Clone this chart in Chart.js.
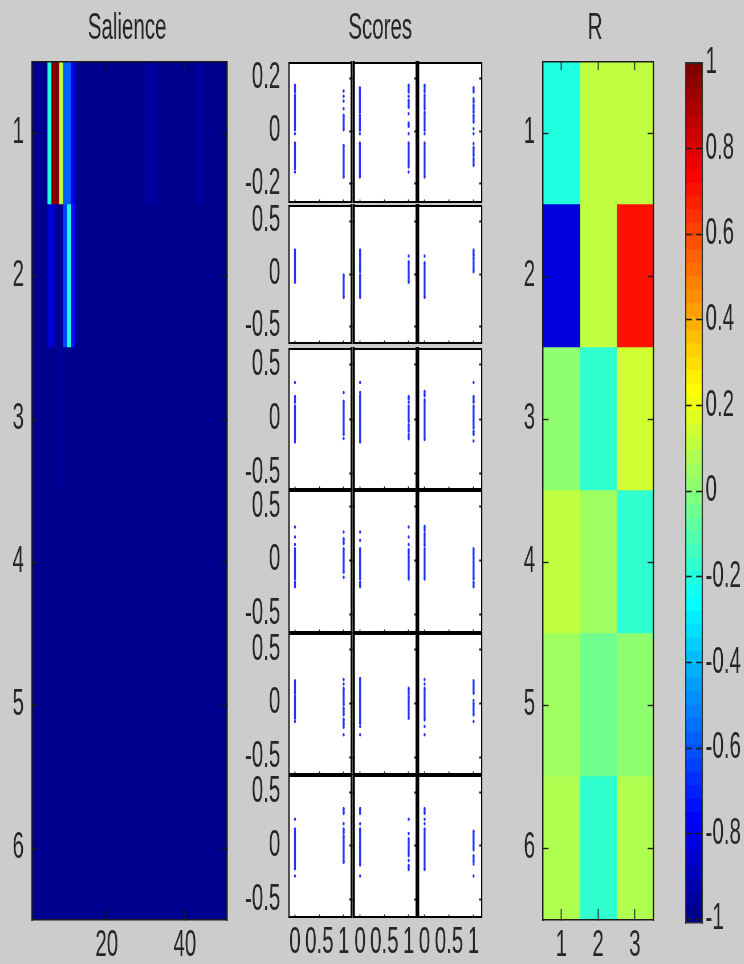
<!DOCTYPE html>
<html>
<head>
<meta charset="utf-8">
<title>Salience / Scores / R</title>
<script src="https://cdn.jsdelivr.net/npm/chart.js@4/dist/chart.umd.min.js"></script>
<style>
  html, body { margin: 0; padding: 0; background: #cccccc; overflow: hidden; width: 744px; height: 964px; }
  /* the source figure is squeezed sideways, so everything is laid out wide and scaled down */
  #stage { position: absolute; left: 0; top: 0; width: 1306px; height: 964px; transform-origin: 0 0; transform: scaleX(0.57); filter: blur(0.35px); }
  #stage canvas { position: absolute; }
</style>
</head>
<body>
<div id="stage"></div>
<script>
// ---- data ----
const rowLabels = ['1', '2', '3', '4', '5', '6'];

const salienceRow1 = [0,0,0,0,.4,1,1,.55,.2,.2,.1,0,0,0,0,0,0,0,0,0,0,0,0,0,0,0,0,0,0,.02,.02,.02,0,0,0,0,0,0,0,0,0,0,.02,.02,0,0,0,0,0,0];
const salienceRow2 = [0,0,0,0,.06,.06,0,0,.18,.4,.12,0,0,0,0,0,0,0,0,0,0,0,0,0,0,0,0,0,0,0,0,0,0,0,0,0,0,0,0,0,0,0,0,0,0,0,0,0,0,0];
const salienceRow3 = [0,0,0,0,0,0,0,.02,0,0,0,0,0,0,0,0,0,0,0,0,0,0,0,0,0,0,0,0,0,0,0,0,0,0,0,0,0,0,0,0,0,0,0,0,0,0,0,0,0,0];
const salienceRow4 = [0,0,0,0,0,0,0,0,0,0,0,0,0,0,0,0,0,0,0,0,0,0,0,0,0,0,0,0,0,0,0,0,0,0,0,0,0,0,0,0,0,0,0,0,0,0,0,0,0,0];
const salienceRow5 = [0,0,0,0,0,0,0,0,0,0,0,0,0,0,0,0,0,0,0,0,0,0,0,0,0,0,0,0,0,0,0,0,0,0,0,0,0,0,0,0,0,0,0,0,0,0,0,0,0,0];
const salienceRow6 = [0,0,0,0,0,0,0,0,0,0,0,0,0,0,0,0,0,0,0,0,0,0,0,0,0,0,0,0,0,0,0,0,0,0,0,0,0,0,0,0,0,0,0,0,0,0,0,0,0,0];
const salienceTicks = [20, 40];

const rRow1 = [-.2, .12, .12];
const rRow2 = [-.82, .12, .7];
const rRow3 = [.01, -.17, .14];
const rRow4 = [.12, .04, -.17];
const rRow5 = [.04, -.05, .01];
const rRow6 = [.08, -.17, .08];
const rTicks = [1, 2, 3];

// runs of score values per panel: [x=0 runs, x=1 runs], a run is [from, to] or a lone [value]
const scoresRow1 = [
  [[[.174,.149],[.136,.005],[-.01],[-.046,-.143],[-.156]], [[.152],[.132],[.114],[.085],[.06,.005],[-.055,-.175]]],
  [[[.165,.145],[.136,.072],[.06,.003],[-.01],[-.046,-.175]], [[.174,.149],[.132],[.117,.091],[.066],[.03,.018],[-.01],[-.046,-.112],[-.118,-.137],[-.156]]],
  [[[.174,.149],[.136,.085],[.072,.003],[-.01],[-.046,-.175]], [[.165,.149],[.123,.11],[.098,.072],[.06,.034],[.009],[-.01],[-.048],[-.063,-.093],[-.105,-.131]]]
];
const scoresRow2 = [
  [[[.228,-.079]], [[-.009,-.222]]],
  [[[.228,.18],[.158,.022],[-.009,-.222]], [[.171],[.117,-.079]]],
  [[[.171],[.108,-.222]], [[.228,.18],[.158,.022]]]
];
const scoresRow3 = [
  [[[.338],[.207,.156],[.12,-.213]], [[.246],[.165,-.144],[-.18]]],
  [[[.338],[.246],[.216,-.144],[-.165,-.213]], [[.207,.186],[.156],[.12,-.024],[-.054,-.114],[-.144,-.183]]],
  [[[.254,.216],[.177,-.189]], [[.338],[.207,.156],[.12,-.084],[-.114,-.144],[-.204]]]
];
const scoresRow4 = [
  [[[.313],[.219],[.15],[.109,-.172],[-.203,-.244]], [[.266],[.203,.156],[.109,-.109],[-.156]]],
  [[[.266],[.188],[.109,-.172],[-.203,-.244]], [[.313],[.219],[.15],[.1,.0625],[.0375,-.172]]],
  [[[.319,.281],[.25,.14],[.109,-.172]], [[.109,-.172],[-.203,-.244]]]
];
const scoresRow5 = [
  [[[.21,.093],[.068,-.139],[-.17]], [[.222],[.179],[.139,-.015],[-.046,-.108],[-.148,-.2],[-.222],[-.293]]],
  [[[.231,-.185],[-.216],[-.293]], [[.139,.093],[.068,-.139]]],
  [[[.222],[.179],[.139,-.154],[-.216],[-.293]], [[.21,.093],[.025],[0,-.108],[-.17]]]
];
const scoresRow6 = [
  [[[.248],[.158,-.212],[-.279]], [[.348,.303],[.206],[.158,.121],[.091,-.152]]],
  [[[.348,.303],[.206],[.158,-.176],[-.279]], [[.248],[.115],[.067,-.091],[-.136],[-.182,-.218]]],
  [[[.348,.303],[.248],[.206],[.158,-.218]], [[.136,-.036],[-.091,-.145],[-.167],[-.279]]]
];
const scoresXTicks = [0, .5, 1];
const scoresYTicks = [[-.2, 0, .2], [-.5, 0, .5], [-.5, 0, .5], [-.5, 0, .5], [-.5, 0, .5], [-.5, 0, .5]];
const scoresYMin = [-.27, -.657, -.648, -.666, -.658, -.66];
const scoresYMax = [.259, .648, .648, .648, .645, .65];

const colorbarTicks = [1, .8, .6, .4, .2, 0, -.2, -.4, -.6, -.8, -1];
const jetColors = [
  '#00008f','#00009f','#0000af','#0000bf','#0000cf','#0000df','#0000ef','#0000ff',
  '#0010ff','#0020ff','#0030ff','#0040ff','#0050ff','#0060ff','#0070ff','#0080ff',
  '#008fff','#009fff','#00afff','#00bfff','#00cfff','#00dfff','#00efff','#00ffff',
  '#10ffef','#20ffdf','#30ffcf','#40ffbf','#50ffaf','#60ff9f','#70ff8f','#80ff80',
  '#8fff70','#9fff60','#afff50','#bfff40','#cfff30','#dfff20','#efff10','#ffff00',
  '#ffef00','#ffdf00','#ffcf00','#ffbf00','#ffaf00','#ff9f00','#ff8f00','#ff8000',
  '#ff7000','#ff6000','#ff5000','#ff4000','#ff3000','#ff2000','#ff1000','#ff0000',
  '#ef0000','#df0000','#cf0000','#bf0000','#af0000','#9f0000','#8f0000','#800000'
];

// ---- helpers ----
const SX = 0.57;            // sideways squeeze of the stage
const INK = '#1c1c1c';
const TEXT = '#262626';
Chart.defaults.font.family = '"Liberation Sans", Arial, sans-serif';
Chart.defaults.font.size = 36;
Chart.defaults.color = TEXT;
Chart.defaults.animation = false;

const stage = document.getElementById('stage');

function jet01(v) { return jetColors[Math.min(63, Math.round(v * 63))]; }
function jetR(v) { return jetColors[Math.min(63, Math.floor((v + 1) / 2 * 64))]; }

const plotBg = {
  id: 'plotBg',
  beforeDraw(chart) {
    const a = chart.chartArea;
    chart.ctx.fillStyle = '#ffffff';
    chart.ctx.fillRect(a.left, a.top, a.right - a.left, a.bottom - a.top);
  }
};

// lock an axis to a given thickness and stop it pushing the plot area around
function fixed(size) {
  return s => {
    if (s.isHorizontal()) s.height = size; else s.width = size;
    s.paddingTop = s.paddingBottom = s.paddingLeft = s.paddingRight = 0;
  };
}
function tickList(values) {
  return s => { s.ticks = values.map(v => ({ value: v })); };
}

// box is the plot rectangle in page pixels, m the canvas margin round it
function addChart(box, m, config) {
  const canvas = document.createElement('canvas');
  const w = Math.round((box.r - box.l + m.l + m.r) / SX);
  const h = Math.round(box.b - box.t + m.t + m.b);
  canvas.width = w;
  canvas.height = h;
  canvas.style.width = w + 'px';
  canvas.style.height = h + 'px';
  canvas.style.left = (box.l - m.l) / SX + 'px';
  canvas.style.top = (box.t - m.t) + 'px';
  stage.appendChild(canvas);
  config.options.responsive = false;
  config.options.devicePixelRatio = 1;
  config.options.layout = { padding: { top: config.options.plugins && config.options.plugins.title ? 0 : m.t, right: 0, bottom: 0, left: 0 } };
  config.options.plugins = Object.assign({ legend: { display: false }, tooltip: { enabled: false } }, config.options.plugins);
  return new Chart(canvas.getContext('2d'), config);
}

function titleOpt(text, mt) {
  return { display: true, text: text, color: TEXT, font: { size: 36, weight: 'normal' }, padding: { top: 7, bottom: mt - 50.2 } };
}

function heatmap(box, m, title, rows, xMin, xMax, xTicks, firstEdge) {
  const nCols = rows[0].values.length;
  const datasets = [];
  for (let c = 0; c < nCols; c++) {
    datasets.push({
      data: rows.map(() => [firstEdge + c, firstEdge + c + 1]),
      backgroundColor: rows.map(r => r.color(r.values[c])),
      borderWidth: 0,
      inflateAmount: 0.8,   // closes the hairline seams between neighbouring cells
      barPercentage: 1,
      categoryPercentage: 1,
      grouped: false
    });
  }
  const grid = { z: 1, drawOnChartArea: false, color: INK, tickColor: INK };
  const border = { z: 2, color: INK };
  addChart(box, m, {
    type: 'bar',
    data: { labels: rowLabels, datasets },
    options: {
      indexAxis: 'y',
      plugins: { title: titleOpt(title, m.t) },
      scales: {
        x: {
          type: 'linear', position: 'bottom', min: xMin, max: xMax,
          afterBuildTicks: tickList(xTicks), afterFit: fixed(m.b),
          grid: Object.assign({}, grid, { tickLength: -11, tickWidth: 1 / SX }),
          border: Object.assign({}, border, { width: 1.6 }),
          ticks: { padding: 11 + 4, maxRotation: 0, autoSkip: false, callback: v => String(v) }
        },
        x2: {
          type: 'linear', axis: 'x', position: 'top', min: xMin, max: xMax,
          afterBuildTicks: tickList(xTicks), afterFit: fixed(0),
          grid: Object.assign({}, grid, { tickLength: -8, tickWidth: 1 / SX }),
          border: Object.assign({}, border, { width: 1.6 }),
          ticks: { display: false }
        },
        y: {
          type: 'category', position: 'left', offset: true, afterFit: fixed(m.l / SX),
          grid: Object.assign({}, grid, { tickLength: -5.5 / SX, tickWidth: 1.4, offset: false }),
          border: Object.assign({}, border, { width: 1.4 / SX }),
          ticks: { padding: 5.5 / SX + 14, autoSkip: false }
        },
        y2: {
          type: 'category', axis: 'y', labels: rowLabels, position: 'right', offset: true, afterFit: fixed(m.r / SX),
          grid: Object.assign({}, grid, { tickLength: -5.5 / SX, tickWidth: 1.4, offset: false }),
          border: Object.assign({}, border, { width: 1.4 / SX }),
          ticks: { display: false, autoSkip: false }
        }
      }
    }
  });
}

function runsToPoints(runs, x) {
  const pts = [];
  runs.forEach(run => {
    run.forEach(y => pts.push({ x, y }));
    pts.push({ x, y: NaN });
  });
  return pts;
}

function scorePanel(box, m, panel, iRow, iCol, title) {
  const lastRow = iRow === 5;
  const firstCol = iCol === 0;
  const showDataset = (runs, x) => ({
    data: runsToPoints(runs, x),
    showLine: true, spanGaps: false,
    borderColor: '#2233ff', borderWidth: 3.4,
    backgroundColor: '#2233ff', pointBackgroundColor: '#2233ff',
    pointRadius: 1.8, pointBorderWidth: 0
  });
  const grid = { z: 1, drawOnChartArea: false, color: INK, tickColor: INK };
  const leftW = firstCol ? 1.2 : 2;
  const rightW = iCol === 2 ? 1.2 : 2;
  const options = {
    scales: {
      x: {
        type: 'linear', position: 'bottom', min: -.126, max: 1.165,
        afterBuildTicks: tickList(scoresXTicks), afterFit: fixed(m.b),
        grid: Object.assign({}, grid, { tickLength: -2.5, tickWidth: 1 / SX }),
        border: { z: 2, color: '#000', width: 2 },
        ticks: { display: lastRow, padding: 2.5 + 4, maxRotation: 0, autoSkip: false, callback: v => String(v) }
      },
      x2: {
        type: 'linear', axis: 'x', position: 'top', min: -.126, max: 1.165,
        afterBuildTicks: tickList(scoresXTicks), afterFit: fixed(0),
        grid: Object.assign({}, grid, { drawTicks: false }),
        border: { z: 2, color: '#000', width: 2 },
        ticks: { display: false }
      },
      y: {
        type: 'linear', position: 'left', min: scoresYMin[iRow], max: scoresYMax[iRow],
        afterBuildTicks: tickList(scoresYTicks[iRow]), afterFit: fixed(m.l / SX),
        grid: Object.assign({}, grid, { drawTicks: false }),
        border: { z: 2, color: '#000', width: leftW / SX },
        ticks: { display: firstCol, padding: 15, autoSkip: false, callback: v => String(v) }
      },
      y2: {
        type: 'linear', axis: 'y', position: 'right', min: scoresYMin[iRow], max: scoresYMax[iRow],
        afterBuildTicks: tickList(scoresYTicks[iRow]), afterFit: fixed(m.r / SX),
        grid: Object.assign({}, grid, { tickLength: -2.5 / SX, tickWidth: 2 }),
        border: { z: 2, color: '#000', width: rightW / SX },
        ticks: { display: false }
      }
    }
  };
  if (title) options.plugins = { title: titleOpt(title, m.t) };
  addChart(box, m, {
    type: 'scatter',
    data: { datasets: [showDataset(panel[0], 0), showDataset(panel[1], 1)] },
    options,
    plugins: [plotBg]
  });
}

// ---- salience ----
const heatRows01 = [salienceRow1, salienceRow2, salienceRow3, salienceRow4, salienceRow5, salienceRow6]
  .map(values => ({ values, color: jet01 }));
heatmap({ l: 32, r: 227, t: 62, b: 920 }, { l: 32, r: 27, t: 62, b: 44 }, 'Salience', heatRows01, .85, 50.85, salienceTicks, .7);

// ---- scores ----
const panelCols = [{ l: 288.7, r: 351.7 }, { l: 353.7, r: 416.5 }, { l: 418.5, r: 481.5 }];
const panelRows = [{ t: 63, b: 202 }, { t: 206, b: 343 }, { t: 349, b: 489 }, { t: 491, b: 632 }, { t: 634, b: 774 }, { t: 776, b: 917 }];
[scoresRow1, scoresRow2, scoresRow3, scoresRow4, scoresRow5, scoresRow6].forEach((row, iRow) => {
  row.forEach((panel, iCol) => {
    const box = Object.assign({}, panelCols[iCol], panelRows[iRow]);
    const m = { l: iCol === 0 ? 46 : 4, r: 4, t: 4, b: iRow === 5 ? 47 : 4 };
    let title = null;
    if (iRow === 0 && iCol === 1) {
      title = 'Scores';
      m.l = 14;
      m.t = 63;
    }
    scorePanel(box, m, panel, iRow, iCol, title);
  });
});

// ---- R ----
const heatRowsR = [rRow1, rRow2, rRow3, rRow4, rRow5, rRow6].map(values => ({ values, color: jetR }));
heatmap({ l: 543.3, r: 653.5, t: 62, b: 920 }, { l: 38, r: 32, t: 62, b: 44 }, 'R', heatRowsR, .5, 3.5, rTicks, .5);

// ---- colorbar ----
const cbMin = -1.008;
const cbDatasets = jetColors.map((color, i) => ({
  data: [[i === 0 ? cbMin : -1 + i / 32, -1 + (i + 1) / 32]],
  backgroundColor: color,
  borderWidth: 0,
  inflateAmount: 0.8,
  barPercentage: 1,
  categoryPercentage: 1,
  grouped: false
}));
const cbGrid = { z: 1, drawOnChartArea: false, color: INK, tickColor: INK };
addChart({ l: 685.7, r: 702.3, t: 63, b: 923 }, { l: 4, r: 41.7, t: 40, b: 41 }, {
  type: 'bar',
  data: { labels: [''], datasets: cbDatasets },
  options: {
    scales: {
      x: {
        type: 'category', position: 'bottom', afterFit: fixed(41),
        grid: Object.assign({}, cbGrid, { drawTicks: false }),
        border: { z: 2, color: '#333', width: 1.5 },
        ticks: { display: false }
      },
      x2: {
        type: 'category', axis: 'x', labels: [''], position: 'top', afterFit: fixed(0),
        grid: Object.assign({}, cbGrid, { drawTicks: false }),
        border: { z: 2, color: '#333', width: 1.5 },
        ticks: { display: false }
      },
      y: {
        type: 'linear', position: 'right', min: cbMin, max: 1,
        afterBuildTicks: tickList(colorbarTicks), afterFit: fixed(41.7 / SX),
        grid: Object.assign({}, cbGrid, { tickLength: -6 / SX, tickWidth: 1.6 }),
        border: { z: 2, color: '#333', width: 1.2 / SX },
        ticks: { padding: 6 / SX + 6, autoSkip: false, callback: v => String(v) }
      },
      y2: {
        type: 'linear', axis: 'y', position: 'left', min: cbMin, max: 1,
        afterBuildTicks: tickList(colorbarTicks), afterFit: fixed(4 / SX),
        grid: Object.assign({}, cbGrid, { tickLength: -6 / SX, tickWidth: 1.6 }),
        border: { z: 2, color: '#333', width: 1.2 / SX },
        ticks: { display: false }
      }
    }
  }
});
</script>
</body>
</html>
